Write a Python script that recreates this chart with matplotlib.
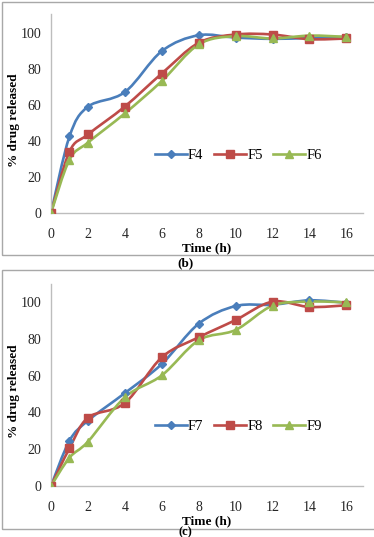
import numpy as np
import matplotlib
matplotlib.use("Agg")
import matplotlib.pyplot as plt
from matplotlib.path import Path
from matplotlib.patches import PathPatch, Rectangle
from matplotlib.lines import Line2D

# sampling times (h)
time_h = [0, 1, 2, 4, 6, 8, 10, 12, 14, 16]

# panel (b)
f4 = [0, 42.4, 58.9, 67.0, 89.7, 98.5, 97.2, 96.5, 97.0, 97.6]
f5 = [0, 34.0, 43.5, 59.0, 77.3, 94.3, 98.9, 98.9, 96.3, 96.7]
f6 = [0, 29.5, 39.0, 55.2, 73.1, 93.4, 98.0, 96.7, 98.3, 97.6]

# panel (c)
f7 = [0, 24.6, 35.5, 50.5, 66.3, 88.2, 97.8, 98.5, 100.9, 99.6]
f8 = [0, 20.5, 37.1, 45.1, 69.9, 80.8, 90.2, 100.2, 97.3, 98.2]
f9 = [0, 15.4, 24.1, 48.2, 60.1, 79.2, 84.8, 98.0, 100.2, 99.8]

y_ticks = [0, 20, 40, 60, 80, 100]
x_ticks = [0, 2, 4, 6, 8, 10, 12, 14, 16]

styles = [
    dict(color="#4a7ebb", marker="D", ms=3.8),
    dict(color="#be4b48", marker="s", ms=5.4),
    dict(color="#98b954", marker="^", ms=5.8),
]

SERIF = "Liberation Serif"


def smooth_path(x, y):
    # Excel-like smoothed line: cubic bezier through the points
    p = np.column_stack([x, y]).astype(float)
    n = len(p)
    verts = [p[0]]
    codes = [Path.MOVETO]
    for i in range(n - 1):
        p0 = p[i - 1] if i > 0 else p[i]
        p3 = p[i + 2] if i + 2 < n else p[i + 1]
        c1 = p[i] + (p[i + 1] - p0) / 6.0
        c2 = p[i + 1] - (p3 - p[i]) / 6.0
        verts += [c1, c2, p[i + 1]]
        codes += [Path.CURVE4] * 3
    return Path(verts, codes)


def draw_panel(ax, series, names):
    handles = []
    for ys, name, st in zip(series, names, styles):
        ax.add_patch(PathPatch(smooth_path(time_h, ys), facecolor="none",
                               edgecolor=st["color"], lw=1.9, zorder=2))
        ax.plot(time_h, ys, linestyle="none", marker=st["marker"],
                ms=st["ms"], color=st["color"], zorder=3)
        handles.append(Line2D([], [], color=st["color"], lw=1.9,
                              marker=st["marker"], ms=st["ms"], label=name))
    ax.set_xlim(0, 16.9)
    ax.set_ylim(0, 110)
    ax.set_xticks(x_ticks)
    ax.set_yticks(y_ticks)
    ax.tick_params(length=0, labelsize=10, colors="#262626")
    ax.tick_params(axis="x", pad=11)
    ax.tick_params(axis="y", pad=7)
    for lab in ax.get_xticklabels() + ax.get_yticklabels():
        lab.set_fontfamily(SERIF)
    for s in ["top", "right"]:
        ax.spines[s].set_visible(False)
    for s in ["left", "bottom"]:
        ax.spines[s].set_color("#bdbdbd")
        ax.spines[s].set_linewidth(1.0)
    ax.text(0.5, -0.176, "Time (h)", transform=ax.transAxes, ha="center",
            va="center", fontsize=9.5, fontweight="bold", family=SERIF)
    ax.text(-0.119, 0.468, "% drug released", transform=ax.transAxes,
            ha="center", va="center", rotation=90, fontsize=9.5,
            fontweight="bold", family=SERIF)
    ax.legend(handles=handles, loc="center", bbox_to_anchor=(0.60, 0.292),
              ncol=3, frameon=False, handlelength=2.2, handletextpad=0.1,
              columnspacing=0.7, prop={"family": SERIF, "size": 10.5})


fig = plt.figure(figsize=(3.74, 5.37), dpi=100)

ax1 = fig.add_axes([0.1364, 0.6034, 0.8342, 0.3696])
draw_panel(ax1, [f4, f5, f6], ["F4", "F5", "F6"])

ax2 = fig.add_axes([0.1364, 0.0950, 0.8342, 0.3769])
draw_panel(ax2, [f7, f8, f9], ["F7", "F8", "F9"])

# frames around panels
W, H = 374.0, 537.0
fig.patches.append(Rectangle((2 / W, 1 - 255 / H), 1.0, (255 - 2) / H,
                             transform=fig.transFigure, fill=False,
                             edgecolor="#a8a8a8", lw=1.0))
fig.patches.append(Rectangle((2 / W, 1 - 529 / H), 1.0, (529 - 270) / H,
                             transform=fig.transFigure, fill=False,
                             edgecolor="#a8a8a8", lw=1.0))

fig.text(185 / W, 1 - 263 / H, "(b)", ha="center", va="center",
         fontsize=9.5, fontweight="bold", family=SERIF)
fig.text(185 / W, 1 - 532 / H, "(c)", ha="center", va="center",
         fontsize=9, fontweight="bold", family=SERIF)

fig.savefig("out.png", dpi=100)
